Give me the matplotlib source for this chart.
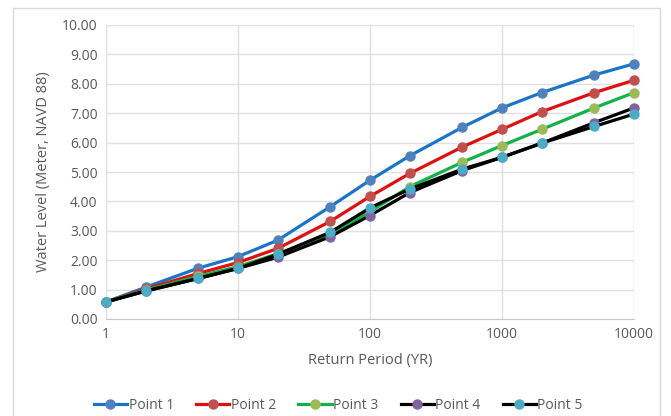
import matplotlib.pyplot as plt
from matplotlib.patches import Rectangle

# return periods (years)
periods = [1, 2, 5, 10, 20, 50, 100, 200, 500, 1000, 2000, 5000, 10000]

# water levels (m, NAVD 88)
point1 = [0.58, 1.08, 1.73, 2.12, 2.68, 3.82, 4.72, 5.55, 6.52, 7.18, 7.70, 8.30, 8.68]
point2 = [0.58, 1.02, 1.55, 1.92, 2.40, 3.32, 4.17, 4.95, 5.85, 6.45, 7.05, 7.70, 8.12]
point3 = [0.58, 0.98, 1.45, 1.78, 2.22, 2.90, 3.65, 4.50, 5.33, 5.90, 6.45, 7.18, 7.70]
point4 = [0.58, 0.95, 1.38, 1.72, 2.10, 2.80, 3.52, 4.30, 5.05, 5.50, 5.98, 6.68, 7.18]
point5 = [0.58, 0.95, 1.38, 1.72, 2.20, 2.95, 3.78, 4.42, 5.10, 5.50, 5.98, 6.55, 6.97]

names = ["Point 1", "Point 2", "Point 3", "Point 4", "Point 5"]
series = [point1, point2, point3, point4, point5]
line_colors = ["#1a75c9", "#e01010", "#12b24a", "#000000", "#000000"]
marker_colors = ["#4f81bd", "#c0504d", "#9bbb59", "#8064a2", "#4bacc6"]

txt = "#595959"
plt.rcParams['font.family'] = ['Open Sans', 'DejaVu Sans']

fig = plt.figure(figsize=(6.71, 4.16), dpi=100)
# chart border
fig.patches.append(Rectangle((13 / 671, -0.05), 647 / 671, 1.05 - 8 / 416,
                             transform=fig.transFigure, fill=False,
                             edgecolor="#d9d9d9", linewidth=1))

ax = fig.add_axes([106 / 671, 1 - 319 / 416, 528 / 671, 294 / 416])

for name, vals, lc, mc in zip(names, series, line_colors, marker_colors):
    ax.plot(periods, vals, color=lc, linewidth=2.3, marker="o", markersize=6.5,
            markerfacecolor=mc, markeredgecolor=mc, label=name, clip_on=False)

ax.set_xscale("log")
ax.set_xlim(1, 10000)
ax.set_ylim(0, 10)
ax.set_yticks([i for i in range(11)])
ax.set_yticklabels([f"{i:.2f}" for i in range(11)])
ax.set_xticks([1, 10, 100, 1000, 10000])
ax.set_xticklabels(["1", "10", "100", "1000", "10000"])
ax.minorticks_off()
ax.grid(True, color="#e0e0e0", linewidth=1)
ax.set_axisbelow(True)
for s in ["top", "right"]:
    ax.spines[s].set_visible(False)
ax.spines["left"].set_visible(False)
ax.spines["bottom"].set_color("#c8c8c8")
ax.tick_params(length=0, colors=txt, labelsize=10, pad=6)

ax.set_xlabel("Return Period (YR)", color=txt, fontsize=10.5, labelpad=8)
ax.set_ylabel("Water Level (Meter, NAVD 88)", color=txt, fontsize=10.5, labelpad=8)

ax.legend(loc="center", bbox_to_anchor=(0.44, -0.295), ncol=5, frameon=False,
          fontsize=10, labelcolor=txt, handlelength=2.4, handletextpad=0.1,
          columnspacing=1.6)

fig.savefig("out.png", dpi=100)
